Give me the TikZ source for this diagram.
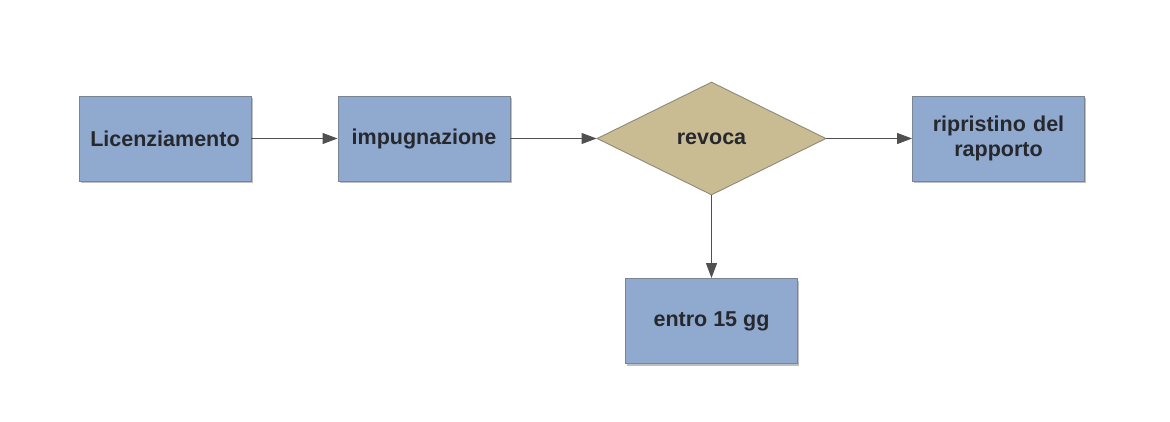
\documentclass[tikz,border=0pt]{standalone}
\usepackage{fontspec}
\setmainfont{Liberation Sans}
\usetikzlibrary{shapes.geometric,arrows.meta,shadows}
\definecolor{boxfill}{HTML}{8FAACE}
\definecolor{boxline}{HTML}{7A8594}
\definecolor{dfill}{HTML}{C9BC92}
\definecolor{dline}{HTML}{8E8A78}
\definecolor{txt}{HTML}{26282E}
\definecolor{arr}{HTML}{505050}
\tikzset{
  x=1pt, y=-1pt,
  procbox/.style={draw=boxline, line width=0.9pt, fill=boxfill, minimum width=172pt, minimum height=85pt,
    inner sep=0pt, align=center, text=txt, font=\fontsize{21.5}{25}\selectfont\bfseries,
    drop shadow={shadow xshift=1.5pt, shadow yshift=-2pt, fill=black, opacity=0.25}},
  decide/.style={draw=dline, line width=0.9pt, fill=dfill, diamond, aspect=2.03, minimum width=229pt, minimum height=113pt,
    inner sep=0pt, text=txt, font=\fontsize{21.5}{25}\selectfont\bfseries},
  conn/.style={draw=arr, line width=1pt, -{Triangle[length=15pt,width=11pt]}}
}
\begin{document}
\begin{tikzpicture}
\fill[white] (0,0) rectangle (1170,421);
\useasboundingbox (0,0) rectangle (1170,421);
\node[procbox] (lic) at (165,138.5) {Licenziamento};
\node[procbox] (imp) at (424,138.5) {impugnazione};
\node[decide] (rev) at (711.5,138.5) {revoca};
\node[procbox, text width=165pt] (rip) at (998.5,138.5) {ripristino del\\rapporto};
\node[procbox] (ent) at (711.5,321) {entro 15 gg};
\draw[conn] (lic) -- (imp);
\draw[conn] (imp) -- (rev);
\draw[conn] (rev) -- (rip);
\draw[conn] (rev) -- (ent);
\end{tikzpicture}
\end{document}
